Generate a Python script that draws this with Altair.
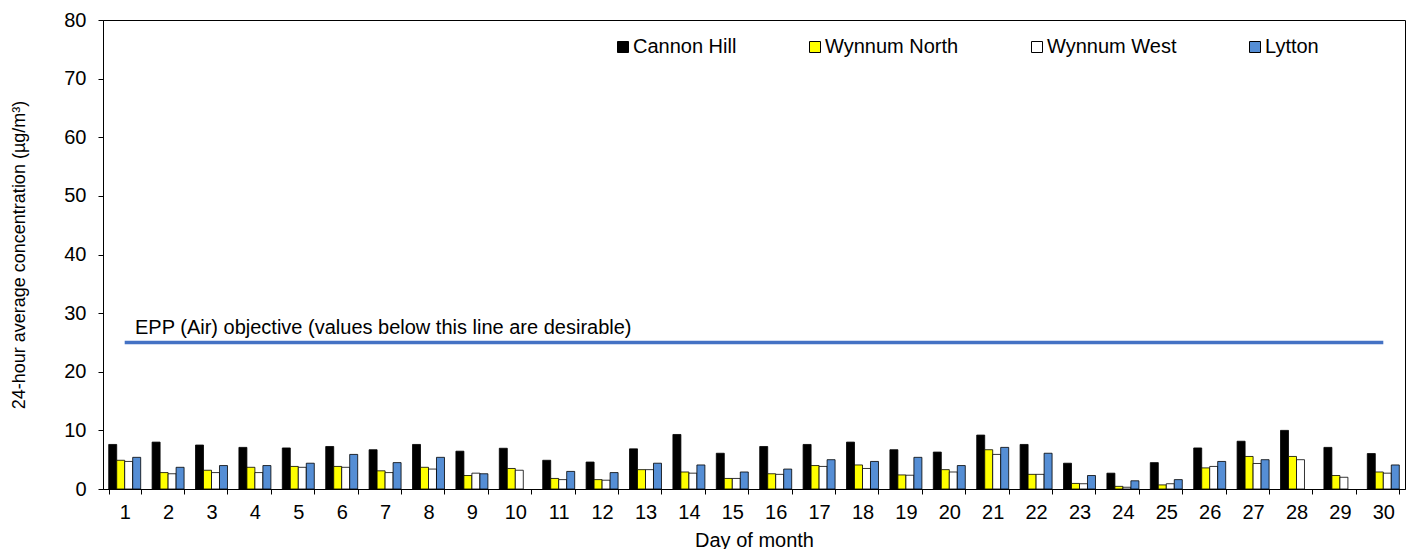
import altair as alt
import pandas as pd

days = list(range(1, 31))
series = ["Cannon Hill", "Wynnum North", "Wynnum West", "Lytton"]
colors = ["#000000", "#FFFF00", "#FFFFFF", "#558ED5"]

cannon_hill = [7.6, 8.0, 7.5, 7.1, 7.0, 7.25, 6.7, 7.6, 6.45, 6.95, 4.9, 4.6, 6.85, 9.3, 6.1,
               7.25, 7.6, 8.0, 6.7, 6.3, 9.2, 7.6, 4.4, 2.7, 4.5, 7.0, 8.15, 10.0, 7.1, 6.05]
wynnum_north = [4.9, 2.8, 3.2, 3.7, 3.85, 3.85, 3.1, 3.7, 2.3, 3.5, 1.8, 1.6, 3.3, 2.9, 1.8,
                2.6, 4.0, 4.1, 2.4, 3.3, 6.7, 2.5, 0.95, 0.45, 0.7, 3.6, 5.55, 5.55, 2.3, 2.9]
wynnum_west = [4.7, 2.6, 2.8, 2.8, 3.7, 3.7, 2.8, 3.4, 2.7, 3.2, 1.6, 1.5, 3.3, 2.7, 1.8,
               2.5, 3.85, 3.5, 2.35, 2.9, 5.9, 2.5, 0.9, 0.3, 0.9, 3.85, 4.35, 5.0, 2.0, 2.7]
lytton = [5.4, 3.7, 4.0, 4.0, 4.4, 5.9, 4.5, 5.4, 2.6, None, 3.0, 2.8, 4.4, 4.1, 2.9,
          3.4, 5.0, 4.7, 5.4, 4.0, 7.1, 6.1, 2.3, 1.4, 1.6, 4.7, 5.0, None, None, 4.1]

objective_value = [25]
objective_label = "EPP (Air) objective (values below this line are desirable)"

values = [cannon_hill, wynnum_north, wynnum_west, lytton]
rows = []
for name, vals in zip(series, values):
    for d, v in zip(days, vals):
        rows.append({"day": d, "series": name, "value": v})
df = pd.DataFrame(rows)

rule_df = pd.DataFrame({"start": [days[0]], "end": [days[-1]], "v": objective_value})

x_scale = alt.Scale(paddingInner=0.263, paddingOuter=0.1315)
x_axis = alt.Axis(labelAngle=0, tickBand="extent", tickSize=5, labelPadding=8,
                  labelFontSize=20, titleFontSize=20, titleFontWeight="normal",
                  titlePadding=8, domainColor="black", tickColor="black")
y_scale = alt.Scale(domain=[0, 80], nice=False)
y_axis = alt.Axis(values=list(range(0, 81, 10)), tickSize=5, labelPadding=12,
                  labelFontSize=20, titleFontSize=18, titleFontWeight="normal",
                  titleX=-84, titleBaseline="middle", domainColor="black", tickColor="black")

bars = alt.Chart(df).mark_bar(stroke="black", strokeWidth=0.8).encode(
    x=alt.X("day:O", title="Day of month", scale=x_scale, axis=x_axis),
    xOffset=alt.XOffset("series:N", sort=series,
                        scale=alt.Scale(domain=series, paddingInner=0, paddingOuter=0)),
    y=alt.Y("value:Q", title="24-hour average concentration (µg/m³)", scale=y_scale, axis=y_axis),
    fill=alt.Fill("series:N", sort=series,
                  scale=alt.Scale(domain=series, range=colors),
                  legend=alt.Legend(orient="none", legendX=510, legendY=17,
                                    direction="horizontal", columns=4, title=None,
                                    symbolType="square", symbolSize=121,
                                    symbolStrokeColor="black", symbolStrokeWidth=1,
                                    labelFontSize=20, labelOffset=0, columnPadding=68,
                                    padding=0, symbolOpacity=1, labelColor="black")),
)

rule = alt.Chart(rule_df).mark_rule(color="#4472C4", strokeWidth=3.5).encode(
    x=alt.X("start:O", title="Day of month"),
    x2="end",
    y=alt.Y("v:Q", title="24-hour average concentration (µg/m³)"),
)

label = alt.Chart(rule_df).mark_text(
    text=objective_label, align="left", baseline="alphabetic", fontSize=20,
    dy=-8, color="black"
).encode(
    x=alt.value(32),
    y=alt.Y("v:Q", title="24-hour average concentration (µg/m³)"),
)

chart = alt.layer(bars, rule, label).properties(
    width=1302, height=469,
    autosize=alt.AutoSizeParams(type="none"),
    padding={"left": 95, "top": 12, "right": 1, "bottom": 60},
).configure(font="Liberation Sans").configure_view(
    stroke="black", strokeWidth=1
).configure_axis(grid=False, labelColor="black", titleColor="black")

chart.save("out.html", embed_options={"renderer": "svg", "actions": False})
